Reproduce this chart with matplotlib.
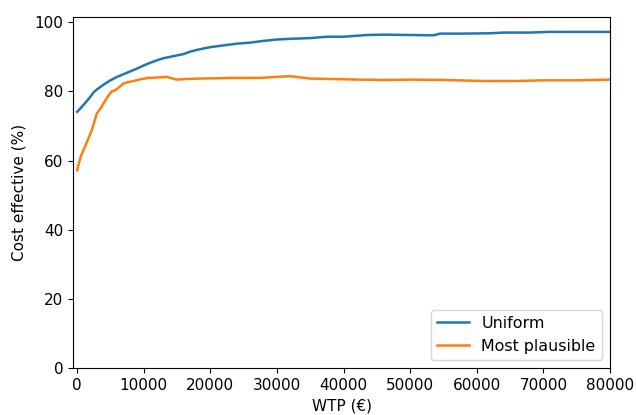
import numpy as np
import matplotlib.pyplot as plt

# WTP values (EUR) and share cost effective (%)
wtp_uniform = [0, 500, 1000, 1500, 2000, 2500, 3000, 3500, 4000, 5000, 6000, 7000, 8000,
               9000, 10000, 11000, 12000, 13000, 14000, 15000, 16000, 17000, 18000, 19000,
               20000, 22000, 24000, 26000, 28000, 30000, 32000, 35000, 37500, 40000,
               43500, 46000, 50000, 53500, 54500, 58000, 62000, 64000, 68000, 71000,
               75000, 80000]
uniform = [74.1, 75.1, 76.2, 77.3, 78.5, 79.8, 80.6, 81.3, 82.0, 83.2, 84.2, 85.0, 85.8,
           86.6, 87.5, 88.3, 89.0, 89.6, 90.0, 90.4, 90.8, 91.5, 92.0, 92.4,
           92.8, 93.3, 93.8, 94.1, 94.6, 95.0, 95.2, 95.4, 95.8, 95.8,
           96.3, 96.4, 96.3, 96.2, 96.7, 96.7, 96.8, 97.0, 97.0, 97.2,
           97.2, 97.2]

wtp_plausible = [0, 300, 600, 950, 1500, 2200, 2950, 3500, 3950, 4600, 5200, 5700, 6300,
                 6950, 7700, 8450, 9500, 10700, 12000, 13450, 14950, 16500, 18450, 21000,
                 24000, 27500, 30000, 32000, 35000, 38000, 42500, 46000, 50000, 55000,
                 61000, 66000, 70000, 75000, 80000]
plausible = [57.2, 59.5, 61.5, 63.0, 65.5, 68.8, 73.6, 75.0, 76.5, 78.5, 80.0, 80.3, 81.2,
             82.3, 82.7, 83.0, 83.5, 83.9, 84.0, 84.2, 83.4, 83.6, 83.7, 83.8,
             83.9, 83.9, 84.2, 84.4, 83.7, 83.6, 83.4, 83.3, 83.4, 83.3,
             83.0, 83.0, 83.2, 83.2, 83.4]

fig = plt.figure(figsize=(6.36, 4.15), dpi=100)
ax = fig.add_axes([0.115, 0.113, 0.844, 0.846])
ax.plot(wtp_uniform, uniform, color='#1f77b4', lw=1.8, label='Uniform')
ax.plot(wtp_plausible, plausible, color='#ff7f0e', lw=1.8, label='Most plausible')
ax.set_xlim(-600, 80000)
ax.set_ylim(0, 101.5)
ax.set_xticks(np.arange(0, 80001, 10000))
ax.set_yticks(np.arange(0, 101, 20))
ax.tick_params(labelsize=11)
ax.set_xlabel('WTP (€)', fontsize=11)
ax.set_ylabel('Cost effective (%)', fontsize=11, labelpad=6)
ax.legend(loc='lower right', fontsize=11.4)
fig.savefig('out.png', dpi=100)
